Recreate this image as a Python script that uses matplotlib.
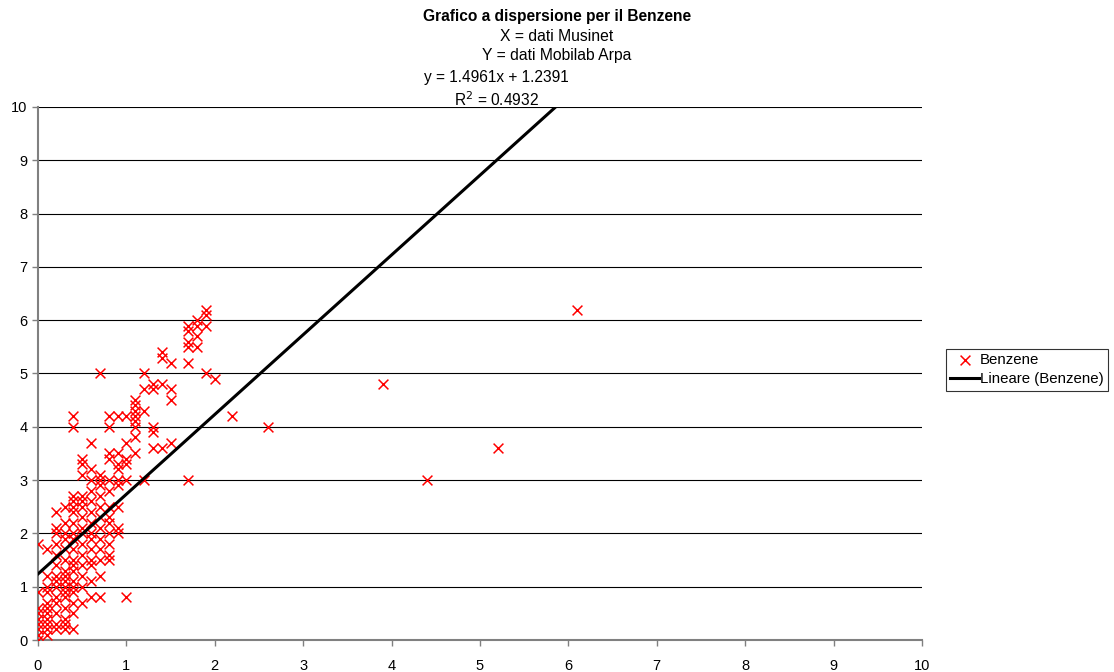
import matplotlib
matplotlib.use("Agg")
import matplotlib.pyplot as plt

plt.rcParams['font.family'] = ['Liberation Sans', 'DejaVu Sans']

# Coppie (Musinet, Mobilab Arpa) raggruppate per valore di X
colonne = {
    0.0: [0.0, 0.1, 0.2, 0.3, 0.4, 0.5, 0.6, 0.9, 1.8],
    0.1: [0.1, 0.2, 0.3, 0.4, 0.5, 0.6, 0.7, 0.9, 1.0, 1.2, 1.7],
    0.2: [0.2, 0.3, 0.5, 0.7, 0.8, 1.0, 1.1, 1.2, 1.4, 1.6, 1.8, 2.0, 2.1, 2.4],
    0.3: [0.2, 0.3, 0.4, 0.6, 0.8, 0.9, 1.0, 1.1, 1.2, 1.3, 1.5, 1.7, 1.9, 2.0, 2.2, 2.5],
    0.4: [0.2, 0.5, 0.7, 0.9, 1.0, 1.1, 1.3, 1.4, 1.5, 1.7, 1.9, 2.0, 2.2, 2.4, 2.5, 2.6, 2.7, 4.0, 4.2],
    0.5: [0.7, 1.0, 1.2, 1.4, 1.6, 1.8, 2.0, 2.1, 2.3, 2.5, 2.6, 2.7, 3.1, 3.3, 3.4],
    0.6: [0.8, 1.1, 1.4, 1.5, 1.7, 1.9, 2.0, 2.2, 2.4, 2.6, 2.8, 3.0, 3.2, 3.7],
    0.7: [0.8, 1.2, 1.5, 1.7, 1.9, 2.1, 2.3, 2.5, 2.7, 2.9, 3.0, 3.1, 5.0],
    0.8: [1.5, 1.6, 1.8, 2.0, 2.2, 2.3, 2.5, 2.8, 3.0, 3.4, 3.5, 4.0, 4.2],
    0.9: [2.0, 2.1, 2.5, 2.9, 3.0, 3.2, 3.3, 3.5, 4.2],
    1.0: [0.8, 3.0, 3.3, 3.4, 3.7, 4.2],
    1.1: [3.5, 3.8, 4.0, 4.1, 4.2, 4.3, 4.4, 4.5],
    1.2: [3.0, 4.3, 4.7, 5.0],
    1.3: [3.6, 3.9, 4.0, 4.7, 4.8],
    1.4: [3.6, 4.8, 5.3, 5.4],
    1.5: [3.7, 4.5, 4.7, 5.2],
    1.7: [3.0, 5.2, 5.5, 5.6, 5.8, 5.9],
    1.8: [5.5, 5.7, 5.9, 6.0],
    1.9: [5.0, 5.9, 6.1, 6.2],
    2.0: [4.9],
    2.2: [4.2],
    2.6: [4.0],
    3.9: [4.8],
    4.4: [3.0],
    5.2: [3.6],
    6.1: [6.2],
}

x_musinet = [x for x, ys in colonne.items() for _ in ys]
y_arpa = [y for ys in colonne.values() for y in ys]

# Retta di regressione lineare
pendenza = 1.4961
intercetta = 1.2391
r2 = 0.4932

fig = plt.figure(figsize=(11.14, 6.72), dpi=100)
ax = fig.add_axes([0.0341, 0.0476, 0.7935, 0.7932])

ax.scatter(x_musinet, y_arpa, marker='x', color='red', s=50, linewidths=1.1,
           label='Benzene', zorder=3)

x_fine = (10 - intercetta) / pendenza
ax.plot([0, x_fine], [intercetta, pendenza * x_fine + intercetta],
        color='black', linewidth=2.2, label='Lineare (Benzene)', zorder=4)

ax.set_xlim(0, 10)
ax.set_ylim(0, 10)
ax.set_xticks(range(0, 11))
ax.set_yticks(range(0, 11))
ax.yaxis.grid(True, color='black', linewidth=0.8)
ax.set_axisbelow(True)

for s in ['top', 'right']:
    ax.spines[s].set_visible(False)
for s in ['left', 'bottom']:
    ax.spines[s].set_color('#808080')
    ax.spines[s].set_linewidth(1.5)
ax.tick_params(axis='both', colors='#808080', length=4, width=1,
               labelcolor='black', labelsize=10.5)
ax.tick_params(axis='x', pad=10)

# Titolo e sottotitoli
fig.text(0.5, 0.976, 'Grafico a dispersione per il Benzene', ha='center', va='center',
         fontsize=11.2, fontweight='bold')
fig.text(0.5, 0.946, 'X = dati Musinet', ha='center', va='center', fontsize=11.3)
fig.text(0.5, 0.918, 'Y = dati Mobilab Arpa', ha='center', va='center', fontsize=11.3)

# Equazione della retta
fig.text(0.446, 0.885, f'y = {pendenza}x + {intercetta}', ha='center', va='center',
         fontsize=11.2)
fig.text(0.446, 0.851, f'R$^2$ = {r2}', ha='center', va='center', fontsize=11.2)

leg = ax.legend(loc='center left', bbox_to_anchor=(1.027, 0.507), frameon=True,
                fancybox=False, edgecolor='black', fontsize=10.8, borderpad=0.3,
                handlelength=1.9, handletextpad=0.05, labelspacing=0.35,
                borderaxespad=0)
leg.get_frame().set_linewidth(0.8)

fig.savefig('out.png', dpi=100)
